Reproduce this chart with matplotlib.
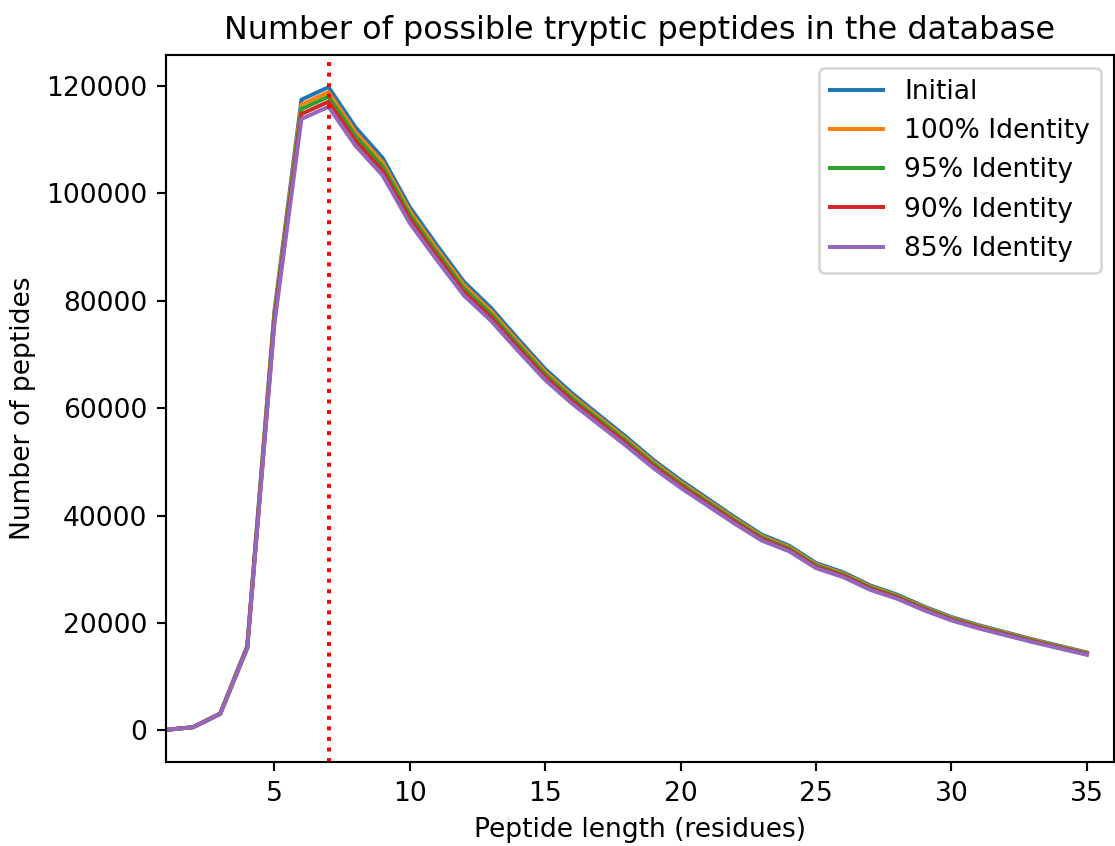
import matplotlib
matplotlib.use('Agg')
import matplotlib.pyplot as plt

DPI = 191
FIG_W, FIG_H = 1115, 846

# Peptide length (residues)
lengths = list(range(1, 36))

initial = [100, 610, 3150, 15730, 77950, 117440, 119770, 112260, 106580, 97440,
           90340, 83530, 78660, 72880, 67290, 62730, 58670, 54610, 50340, 46590,
           43140, 39690, 36440, 34410, 31160, 29440, 27000, 25270, 23040, 21110,
           19590, 18270, 16950, 15730, 14510]
ident_100 = [100, 600, 3120, 15610, 77340, 116510, 118830, 111370, 105740, 96670,
             89620, 82880, 78040, 72300, 66760, 62230, 58200, 54180, 49950, 46220,
             42800, 39370, 36150, 34140, 30910, 29200, 26790, 25070, 22860, 20950,
             19440, 18130, 16820, 15610, 14400]
ident_95 = [100, 600, 3100, 15500, 76800, 115700, 118000, 110600, 105000, 96000,
            89000, 82300, 77500, 71800, 66300, 61800, 57800, 53800, 49600, 45900,
            42500, 39100, 35900, 33900, 30700, 29000, 26600, 24900, 22700, 20800,
            19300, 18000, 16700, 15500, 14300]
ident_90 = [100, 595, 3075, 15380, 76190, 114770, 117060, 109720, 104160, 95230,
            88290, 81640, 76880, 71230, 65770, 61310, 57340, 53370, 49200, 45530,
            42160, 38790, 35610, 33630, 30450, 28770, 26390, 24700, 22520, 20630,
            19150, 17860, 16570, 15380, 14190]
ident_85 = [100, 590, 3050, 15250, 75570, 113850, 116110, 108830, 103320, 94460,
            87580, 80980, 76260, 70650, 65240, 60810, 56880, 52940, 48810, 45170,
            41820, 38470, 35330, 33360, 30210, 28540, 26170, 24500, 22340, 20470,
            18990, 17710, 16430, 15250, 14070]

series = [
    ('Initial', initial),
    ('100% Identity', ident_100),
    ('95% Identity', ident_95),
    ('90% Identity', ident_90),
    ('85% Identity', ident_85),
]

MARK_LENGTH = 7


def main():
    fig = plt.figure(figsize=(FIG_W / DPI, FIG_H / DPI), dpi=DPI)
    axis = fig.add_axes([166 / FIG_W, (FIG_H - 762) / FIG_H,
                         948 / FIG_W, 707 / FIG_H])

    for label, values in series:
        axis.plot(lengths, values, label=label)

    # marks the most common peptide length
    axis.axvline(MARK_LENGTH, color='red', linestyle=':')

    axis.set_xlim(1, 36)
    axis.set_title('Number of possible tryptic peptides in the database')
    axis.set_xlabel('Peptide length (residues)')
    axis.set_ylabel('Number of peptides')
    axis.legend(loc='upper right')

    fig.savefig('out.png', dpi=DPI)


if __name__ == '__main__':
    main()
